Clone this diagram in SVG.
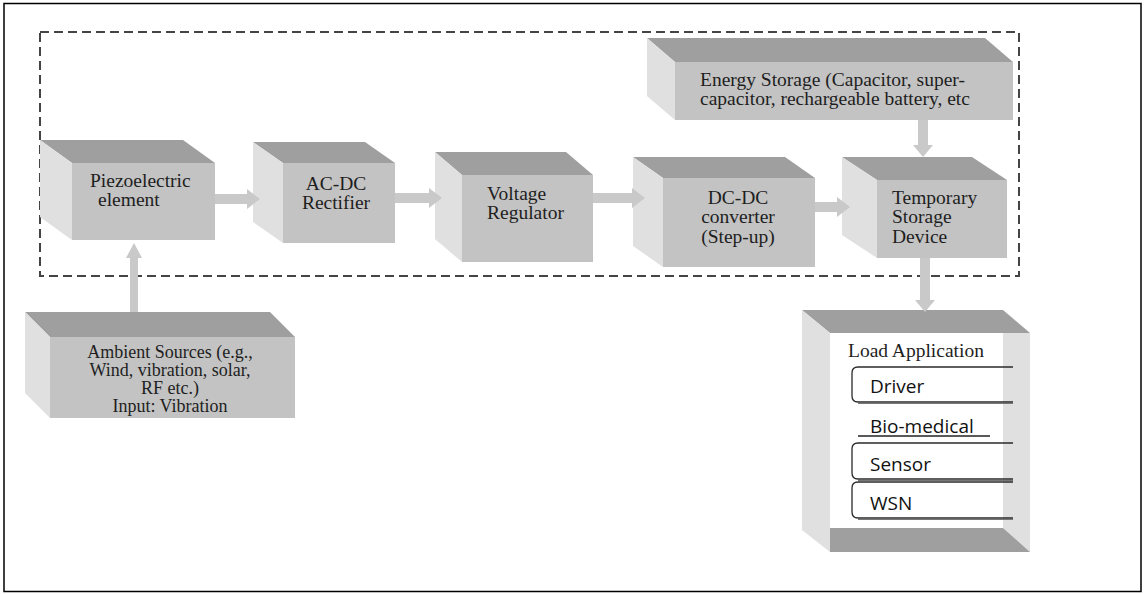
<svg xmlns="http://www.w3.org/2000/svg" width="1145" height="594" viewBox="0 0 1145 594">
  <style>
    .top { fill: #9f9f9f; }
    .front { fill: #c3c3c3; }
    .side { fill: #e0e0e0; }
    .lbl { font-family: "Liberation Serif", "Times New Roman", serif; font-size: 19.5px; fill: #1e1e1e; }
    .small { font-size: 18px; }
    .mid { text-anchor: middle; }
    .sans { font-family: "Open Sans", "Liberation Sans", sans-serif; font-size: 19px; fill: #111; }
    .arrow { fill: #c9c9c9; }
    .tab { fill: none; stroke: #2a2a2a; stroke-width: 1.3; }
    .tabshadow { fill: none; stroke: #777; stroke-width: 1.2; }
  </style>

  <!-- page frame -->
  <rect x="4" y="3.5" width="1137" height="588" fill="#ffffff" stroke="#000" stroke-width="1.5"/>

  <!-- harvester boundary -->
  <rect id="harvester-boundary" x="40" y="32" width="979" height="244" fill="none" stroke="#444" stroke-width="2" stroke-dasharray="9 5"/>

  <g id="piezo">
    <polygon class="top" points="40,140 183,140 215,163 72,163"/>
    <polygon class="side" points="40,140 72,163 72,240 40,217"/>
    <rect class="front" x="72" y="163" width="143" height="77"/>
    <text class="lbl" x="90" y="187">Piezoelectric</text>
    <text class="lbl" x="98" y="206">element</text>
  </g>

  <g id="rectifier">
    <polygon class="top" points="253,142 365,142 395,163 283,163"/>
    <polygon class="side" points="253,142 283,163 283,243 253,222"/>
    <rect class="front" x="283" y="163" width="112" height="80"/>
    <text class="lbl mid" x="336" y="190">AC-DC</text>
    <text class="lbl mid" x="336" y="209">Rectifier</text>
  </g>

  <g id="regulator">
    <polygon class="top" points="435,152 566,152 593,175 462,175"/>
    <polygon class="side" points="435,152 462,175 462,262 435,239"/>
    <rect class="front" x="462" y="175" width="131" height="87"/>
    <text class="lbl" x="487" y="200">Voltage</text>
    <text class="lbl" x="487" y="219">Regulator</text>
  </g>

  <g id="converter">
    <polygon class="top" points="633,157 785,157 815,178 663,178"/>
    <polygon class="side" points="633,157 663,178 663,267 633,246"/>
    <rect class="front" x="663" y="178" width="152" height="89"/>
    <text class="lbl mid" x="738" y="204">DC-DC</text>
    <text class="lbl mid" x="738" y="223">converter</text>
    <text class="lbl mid" x="738" y="243">(Step-up)</text>
  </g>

  <g id="temp-storage">
    <polygon class="top" points="842,157 972,157 1007,180 877,180"/>
    <polygon class="side" points="842,157 877,180 877,258 842,235"/>
    <rect class="front" x="877" y="180" width="130" height="78"/>
    <text class="lbl" x="892" y="204">Temporary</text>
    <text class="lbl" x="892" y="223">Storage</text>
    <text class="lbl" x="892" y="243">Device</text>
  </g>

  <g id="energy-storage">
    <polygon class="top" points="647,38 985,38 1013,62 675,62"/>
    <polygon class="side" points="647,38 675,62 675,120 647,96"/>
    <rect class="front" x="675" y="62" width="338" height="58"/>
    <text class="lbl" x="700" y="86">Energy Storage (Capacitor, super-</text>
    <text class="lbl" x="700" y="105">capacitor, rechargeable battery, etc</text>
  </g>

  <g id="ambient">
    <polygon class="top" points="25,312 270,312 295,337 50,337"/>
    <polygon class="side" points="25,312 50,337 50,418 25,393"/>
    <rect class="front" x="50" y="337" width="245" height="81"/>
    <text class="lbl small mid" x="170" y="358">Ambient Sources (e.g.,</text>
    <text class="lbl small mid" x="170" y="376">Wind, vibration, solar,</text>
    <text class="lbl small mid" x="170" y="394">RF etc.)</text>
    <text class="lbl small mid" x="170" y="412">Input: Vibration</text>
  </g>

  <g id="load">
    <polygon class="top" points="802,310 1003,310 1030,333 830,333"/>
    <polygon class="side" points="802,310 830,333 830,552 802,530"/>
    <polygon class="side" points="1003,333 1030,333 1030,552 1003,528"/>
    <polygon class="top" points="830,528 1003,528 1030,552 830,552"/>
    <rect x="830" y="333" width="173" height="195" fill="#ffffff"/>
    <text class="lbl" x="848" y="357">Load Application</text>
    <path class="tabshadow" d="M858,403.5 H1013"/>
    <path class="tab" d="M1013,367 H858 Q852,367 852,373 V396 Q852,402 858,402 H1013"/>
    <text class="sans" x="870" y="393">Driver</text>
    <text class="sans" x="870" y="433">Bio-medical</text>
    <line x1="858" y1="436" x2="990" y2="436" stroke="#222" stroke-width="1.3"/>
    <path class="tabshadow" d="M858,480.5 H1013"/>
    <path class="tab" d="M1013,443 H858 Q852,443 852,449 V473 Q852,479 858,479 H1013"/>
    <text class="sans" x="870" y="471">Sensor</text>
    <path class="tabshadow" d="M858,519.5 H1013"/>
    <path class="tab" d="M1013,482 H858 Q852,482 852,488 V512 Q852,518 858,518 H1013"/>
    <text class="sans" x="870" y="510">WSN</text>
  </g>

  <g id="connectors">
    <polygon class="arrow" points="215,194 247,194 247,189 260,199 247,209 247,204 215,204"/>
    <polygon class="arrow" points="395,193 429,193 429,188 442,198 429,208 429,203 395,203"/>
    <polygon class="arrow" points="593,193 632,193 632,188 645,198 632,208 632,203 593,203"/>
    <polygon class="arrow" points="815,202 837,202 837,197 850,207 837,217 837,212 815,212"/>
    <polygon class="arrow" points="918,120 928,120 928,145 933,145 923,157 913,145 918,145"/>
    <polygon class="arrow" points="920,258 930,258 930,300 935,300 925,312 915,300 920,300"/>
    <polygon class="arrow" points="130,312 138,312 138,258 142,258 134,243 126,258 130,258"/>
  </g>
</svg>
